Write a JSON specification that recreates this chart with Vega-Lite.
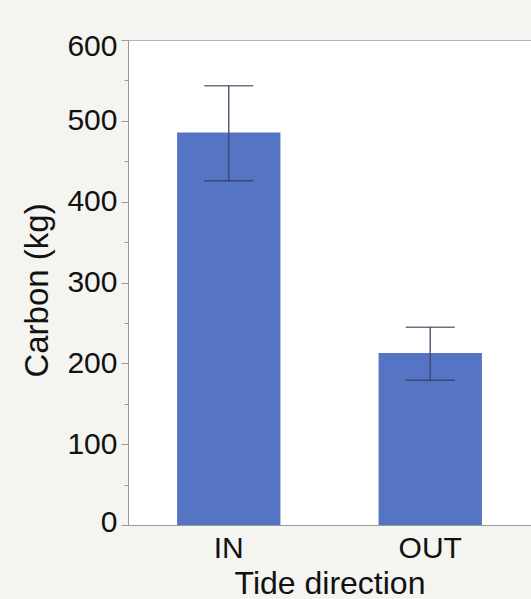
{
  "$schema": "https://vega.github.io/schema/vega-lite/v6.json",
  "width": 403,
  "height": 485,
  "autosize": {"type": "none"},
  "padding": {"left": 128, "top": 40, "right": 0, "bottom": 74},
  "background": "#f4f4f0",
  "config": {
    "view": {"fill": "white", "stroke": "#b4b4b4", "strokeWidth": 1},
    "font": "Liberation Sans"
  },
  "data": {
    "values": [
      {"tide": "IN", "carbon": 485.5, "lower": 425.8, "upper": 543.3},
      {"tide": "OUT", "carbon": 212.9, "lower": 179.0, "upper": 244.5}
    ]
  },
  "encoding": {
    "x": {
      "field": "tide",
      "type": "nominal",
      "title": "Tide direction",
      "scale": {"paddingInner": 0.487, "paddingOuter": 0.2435},
      "axis": {
        "labelAngle": 0,
        "labelFontSize": 30,
        "labelColor": "#111",
        "labelPadding": 8,
        "ticks": false,
        "domainColor": "#999",
        "titleFontSize": 32,
        "titleFontWeight": "normal",
        "titleColor": "#111",
        "titlePadding": 5
      }
    }
  },
  "layer": [
    {
      "mark": {"type": "bar", "color": "#5574c4"},
      "encoding": {
        "y": {
          "field": "carbon",
          "type": "quantitative",
          "title": "Carbon (kg)",
          "scale": {"domain": [0, 600], "nice": false},
          "axis": {
            "values": [0, 50, 100, 150, 200, 250, 300, 350, 400, 450, 500, 550, 600],
            "labelExpr": "datum.value % 100 === 0 ? datum.label : ''",
            "grid": false,
            "labelFontSize": 30,
            "labelColor": "#111",
            "labelPadding": 4,
            "labelOffset": {"condition": [{"test": "datum.value === 600", "value": 6}, {"test": "datum.value === 0", "value": -3}], "value": 0},
            "tickColor": "#999",
            "tickSize": {"condition": {"test": "datum.value % 100 === 0", "value": 7}, "value": 4},
            "domainColor": "#999",
            "titleFontSize": 33,
            "titleFontWeight": "normal",
            "titleColor": "#111",
            "titlePadding": 12,
            "titleY": 250
          }
        }
      }
    },
    {
      "mark": {"type": "rule", "color": "#3c4766", "strokeWidth": 1.5, "opacity": 0.85},
      "encoding": {
        "y": {"field": "lower", "type": "quantitative"},
        "y2": {"field": "upper"}
      }
    },
    {
      "mark": {"type": "tick", "color": "#2e3550", "size": 49, "thickness": 1.5, "orient": "horizontal"},
      "encoding": {"y": {"field": "lower", "type": "quantitative"}}
    },
    {
      "mark": {"type": "tick", "color": "#2e3550", "size": 49, "thickness": 1.5, "orient": "horizontal"},
      "encoding": {"y": {"field": "upper", "type": "quantitative"}}
    }
  ]
}
